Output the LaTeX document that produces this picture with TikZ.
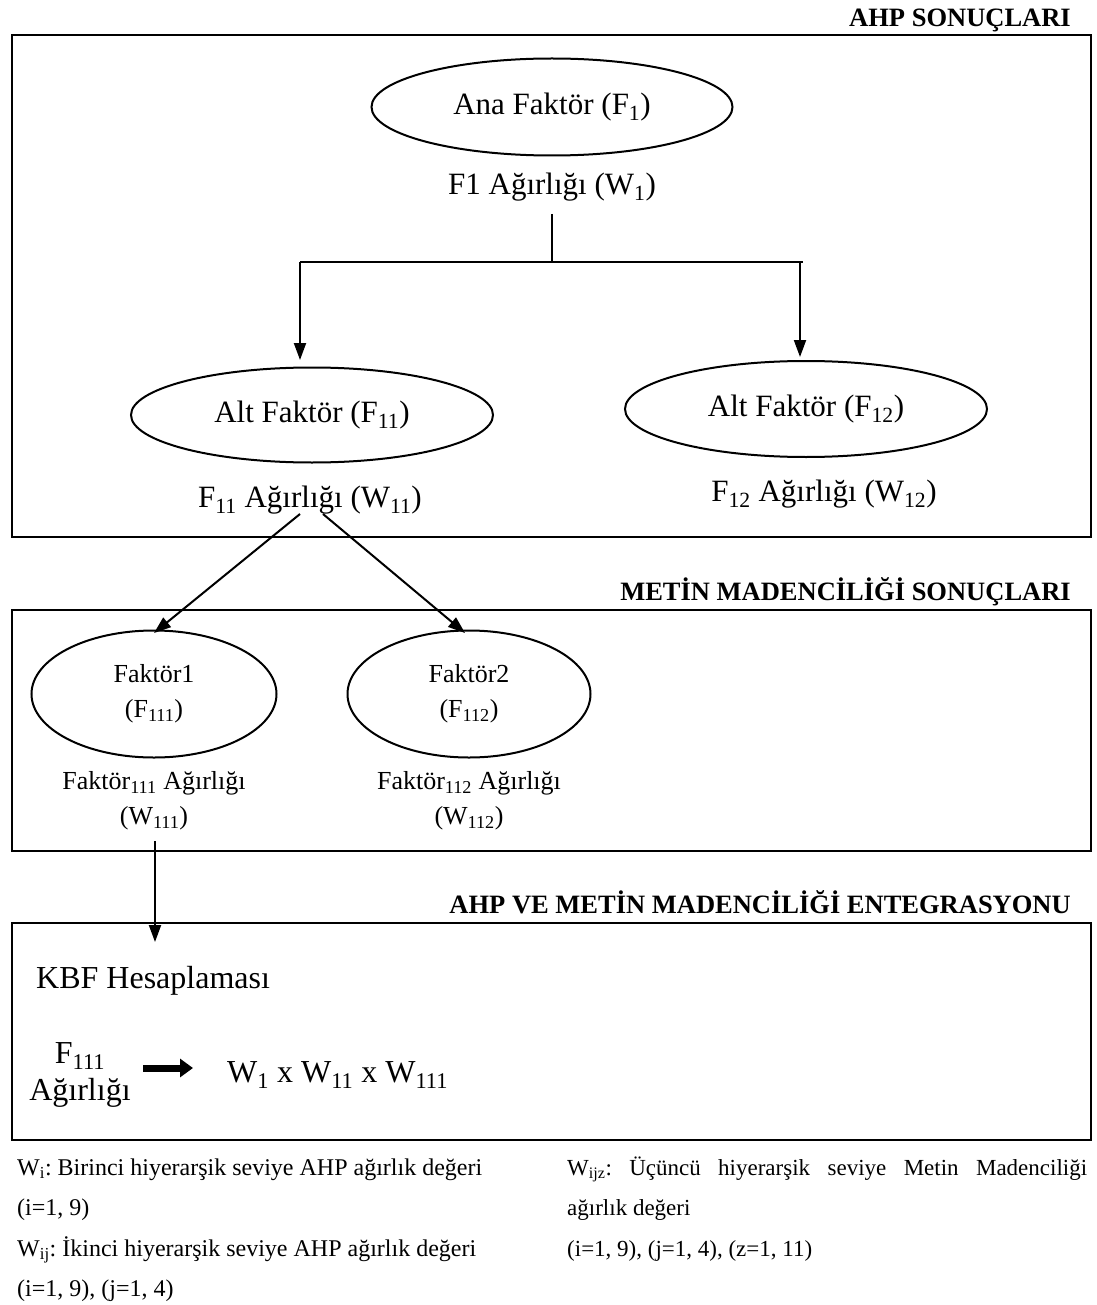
\documentclass[tikz,border=0pt]{standalone}
\usepackage{fontspec}
\setmainfont{Liberation Serif}
\usetikzlibrary{arrows.meta,shapes.geometric}
\frenchspacing
\begin{document}
\begin{tikzpicture}[x=1pt,y=-1pt]
\tikzset{
  boxline/.style={line width=2.5pt},
  ell/.style={draw, ellipse, line width=2pt, inner sep=0pt},
  conn/.style={line width=2pt},
  arr/.style={line width=2pt, -{Triangle[length=17pt,width=12pt]}},
  thickarr/.style={line width=7pt, -{Triangle[length=13pt,width=18pt]}},
  head/.style={font=\fontsize{26.5}{30}\selectfont\bfseries, inner sep=0pt},
  big/.style={font=\fontsize{31}{36}\selectfont, inner sep=0pt},
  huge/.style={font=\fontsize{32}{37}\selectfont, inner sep=0pt},
  mid/.style={font=\fontsize{26}{35}\selectfont, inner sep=0pt, align=center},
  note/.style={font=\fontsize{24}{28}\selectfont, inner sep=0pt, anchor=base west},
  noter/.style={font=\fontsize{23}{28}\selectfont, inner sep=0pt, anchor=base west},
}
\useasboundingbox (0,0) rectangle (1096,1305);
\fill[white] (0,0) rectangle (1096,1305);

% headings
\node[head, anchor=base east] (h1) at (1071,27) {AHP SONUÇLARI};
\node[head, anchor=base east] (h2) at (1071,600) {METİN MADENCİLİĞİ SONUÇLARI};
\node[head, anchor=base east] (h3) at (1071,913) {AHP VE METİN MADENCİLİĞİ ENTEGRASYONU};

% boxes
\draw[boxline] (12,35) rectangle (1091,537);
\draw[boxline] (12,610) rectangle (1091,851);
\draw[boxline] (12,923) rectangle (1091,1140);

% level 1
\node[ell, big, minimum width=361pt, minimum height=97pt] (anaf) at (552,107) {Ana Faktör (F\textsubscript{1})};
\node[big] (w1) at (552,187) {F1 Ağırlığı (W\textsubscript{1})};
\coordinate (c1) at (552,214);
\coordinate (c2) at (552,262);
\coordinate (cl) at (300,262);
\coordinate (cm) at (800,262);
\coordinate (cr) at (803,262);
\coordinate (tl) at (300,360);
\coordinate (tr) at (800,357);
\draw[conn] (c1) -- (c2);
\draw[conn] (cl) -- (cr);
\draw[arr] (cl) -- (tl);
\draw[arr] (cm) -- (tr);

% level 2
\node[ell, big, minimum width=362pt, minimum height=95pt] (alt1) at (312,415) {Alt Faktör (F\textsubscript{11})};
\node[ell, big, minimum width=362pt, minimum height=96pt] (alt2) at (806,409) {Alt Faktör (F\textsubscript{12})};
\node[big] (w11) at (310,500) {F\textsubscript{11} Ağırlığı (W\textsubscript{11})};
\node[big] (w12) at (824,494) {F\textsubscript{12} Ağırlığı (W\textsubscript{12})};
\coordinate (s1) at (300,514);
\coordinate (s2) at (323,514);
\coordinate (t1) at (154,633);
\coordinate (t2) at (465,633);
\draw[arr] (s1) -- (t1);
\draw[arr] (s2) -- (t2);

% level 3
\node[ell, mid, minimum width=245pt, minimum height=127pt] (fak1) at (154,694) {Faktör1\\(F\textsubscript{111})};
\node[ell, mid, minimum width=243pt, minimum height=127pt] (fak2) at (469,694) {Faktör2\\(F\textsubscript{112})};
\node[mid] (w111) at (154,801) {Faktör\textsubscript{111} Ağırlığı\\(W\textsubscript{111})};
\node[mid] (w112) at (469,801) {Faktör\textsubscript{112} Ağırlığı\\(W\textsubscript{112})};
\coordinate (d1) at (155,841);
\coordinate (d2) at (155,942);
\draw[arr] (d1) -- (d2);

% integration box
\node[huge, anchor=base west] (kbf) at (36,988) {KBF Hesaplaması};
\node[huge, align=center, anchor=base] (f111) at (80,1100) {F\textsubscript{111}\\Ağırlığı};
\coordinate (a1) at (143,1068);
\coordinate (a2) at (193,1068);
\draw[thickarr] (a1) -- (a2);
\node[huge, anchor=base west] (formula) at (227,1082) {W\textsubscript{1} x W\textsubscript{11} x W\textsubscript{111}};

% notes
\node[note] (n1) at (17,1175) {W\textsubscript{i}: Birinci hiyerarşik seviye AHP ağırlık değeri};
\node[note] (n2) at (17,1215) {(i=1, 9)};
\node[note] (n3) at (17,1256) {W\textsubscript{ij}: İkinci hiyerarşik seviye AHP ağırlık değeri};
\node[note] (n4) at (17,1296) {(i=1, 9), (j=1, 4)};
\node[noter] (m1) at (567,1175) {\makebox[520pt][s]{W\textsubscript{ijz}: Üçüncü hiyerarşik seviye Metin Madenciliği}};
\node[noter] (m2) at (567,1215) {ağırlık değeri};
\node[noter] (m3) at (567,1256) {(i=1, 9), (j=1, 4), (z=1, 11)};
\end{tikzpicture}
\end{document}
